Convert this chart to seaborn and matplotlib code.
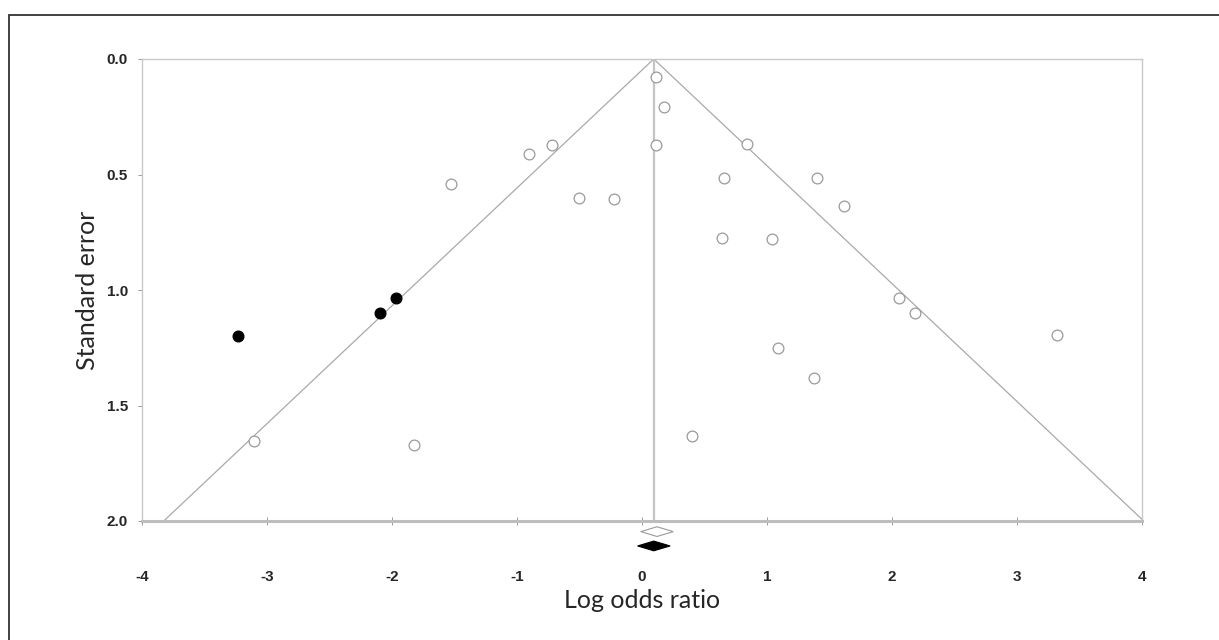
import numpy as np
import pandas as pd
import seaborn as sns
import matplotlib.pyplot as plt
from matplotlib.patches import Rectangle, Polygon

# observed studies (open circles)
log_or = [0.108, 0.179, 0.113, -0.721, -0.904, -1.531, -0.503, -0.222, 0.843, 0.654,
          1.400, 1.614, 0.640, 1.043, -3.107, -1.822, 0.402, 2.057, 2.180, 3.323,
          1.089, 1.374]
std_err = [0.077, 0.207, 0.373, 0.373, 0.413, 0.539, 0.601, 0.607, 0.368, 0.514,
           0.514, 0.637, 0.775, 0.780, 1.655, 1.669, 1.633, 1.033, 1.098, 1.196,
           1.253, 1.380]

# imputed studies from trim and fill (filled circles)
imp_log_or = [-3.232, -2.094, -1.969]
imp_std_err = [1.197, 1.098, 1.033]

# pooled estimates: observed (open diamond) and adjusted (filled diamond)
obs_est, obs_lo, obs_hi = 0.120, -0.010, 0.250
adj_est, adj_lo, adj_hi = 0.094, -0.035, 0.225

df = pd.DataFrame({"x": log_or, "se": std_err})
imp = pd.DataFrame({"x": imp_log_or, "se": imp_std_err})

sns.set_style("white")
plt.rcParams["axes.unicode_minus"] = False
fig = plt.figure(figsize=(12.19, 6.40), dpi=100)
ax = fig.add_axes([142 / 1219, 1 - 521 / 640, 1000 / 1219, 462 / 640])

# funnel
se_line = np.array([0.0, 2.0])
ax.plot(adj_est - 1.96 * se_line, se_line, color="#a9a9a9", lw=0.9, zorder=1)
ax.plot(adj_est + 1.96 * se_line, se_line, color="#a9a9a9", lw=0.9, zorder=1)
ax.axvline(adj_est, color="#c4c4c4", lw=1.6, zorder=1)

sns.scatterplot(data=df, x="x", y="se", ax=ax, marker="o", s=60,
                facecolor="white", edgecolor="#9a9a9a", linewidth=0.9, zorder=3)
sns.scatterplot(data=imp, x="x", y="se", ax=ax, marker="o", s=60,
                color="black", edgecolor="black", linewidth=0.9, zorder=3)

# diamonds under the axis
def diamond(est, lo, hi, yc, h, fc, ec):
    pts = [(lo, yc), (est, yc - h), (hi, yc), (est, yc + h)]
    ax.add_patch(Polygon(pts, closed=True, facecolor=fc, edgecolor=ec,
                         lw=0.8, clip_on=False, zorder=4))

diamond(obs_est, obs_lo, obs_hi, 2.046, 0.021, "white", "#9a9a9a")
diamond(adj_est, adj_lo, adj_hi, 2.108, 0.021, "black", "black")

ax.set_xlim(-4, 4)
ax.set_ylim(2.0, 0.0)
ax.set_xticks(range(-4, 5))
ax.set_yticks([0.0, 0.5, 1.0, 1.5, 2.0])
ax.set_yticklabels(["0.0", "0.5", "1.0", "1.5", "2.0"])

for s in ["top", "right", "left"]:
    ax.spines[s].set_color("#c8c8c8")
    ax.spines[s].set_linewidth(1.0)
ax.spines["bottom"].set_color("#bdbdbd")
ax.spines["bottom"].set_linewidth(2.2)

tick_family = ["Liberation Sans Narrow", "Liberation Sans", "DejaVu Sans"]
ax.tick_params(axis="x", bottom=True, direction="inout", length=6, width=0.7,
               color="#9a9a9a", pad=32)
ax.tick_params(axis="y", left=True, direction="out", length=3, width=0.7,
               color="#9a9a9a", pad=7)
for lab in ax.get_xticklabels() + ax.get_yticklabels():
    lab.set_fontfamily(tick_family)
    lab.set_fontweight("bold")
    lab.set_fontsize(11)

label_font = ["Lato", "DejaVu Sans"]
ax.set_xlabel("Log odds ratio", family=label_font, fontsize=18, labelpad=4)
ax.set_ylabel("Standard error", family=label_font, fontsize=18, labelpad=6)

# outer frame (only top and left edges fall inside the image)
fig.add_artist(Rectangle((9 / 1219, -0.05), 1.2, 1.05 - 15 / 640,
                         transform=fig.transFigure, fill=False,
                         edgecolor="#333333", lw=1.3))

fig.savefig("out.png", dpi=100)
